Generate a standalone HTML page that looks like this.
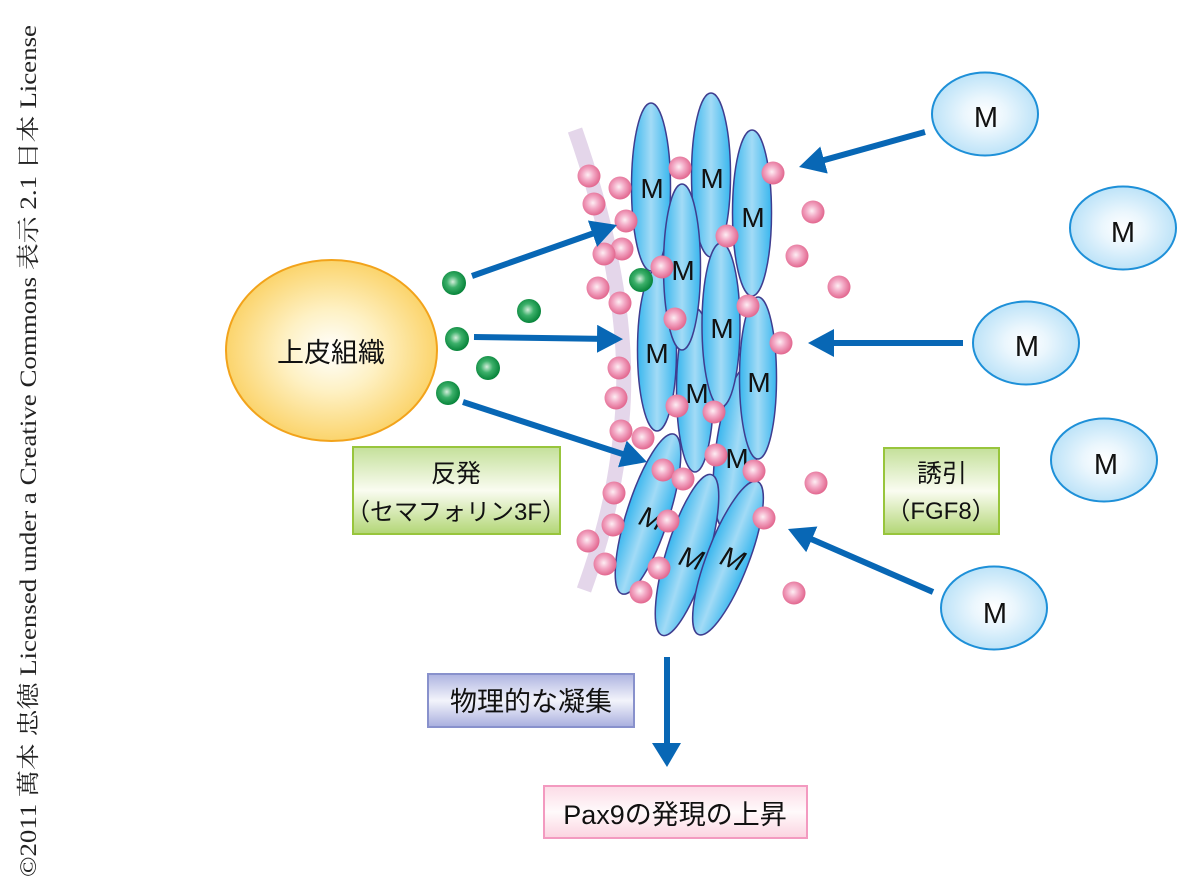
<!DOCTYPE html>
<html><head><meta charset="utf-8"><style>
html,body{margin:0;padding:0;background:#fff;}
svg{display:block;}
.j{font-family:"Liberation Sans","Noto Sans CJK JP",sans-serif;fill:#111;}
.m{font-family:"Liberation Sans",sans-serif;fill:#111;font-size:28px;}
</style></head><body>
<svg width="1200" height="894" viewBox="0 0 1200 894" xmlns="http://www.w3.org/2000/svg">
<defs>
<radialGradient id="gBig" cx="0.5" cy="0.5" r="0.5">
<stop offset="0" stop-color="#ffffff"/><stop offset="0.45" stop-color="#fef1c4"/><stop offset="1" stop-color="#fbd46c"/></radialGradient>
<radialGradient id="gR" cx="0.5" cy="0.5" r="0.5">
<stop offset="0" stop-color="#ffffff"/><stop offset="0.4" stop-color="#eaf6fd"/><stop offset="1" stop-color="#bde3f8"/></radialGradient>
<linearGradient id="gC" x1="0" y1="0" x2="1" y2="0">
<stop offset="0" stop-color="#38b6ee"/><stop offset="0.5" stop-color="#a2dbf6"/><stop offset="1" stop-color="#38b6ee"/></linearGradient>
<radialGradient id="gP" cx="0.45" cy="0.45" r="0.55">
<stop offset="0" stop-color="#fdeef3"/><stop offset="0.45" stop-color="#f3aac6"/><stop offset="1" stop-color="#e2678f"/></radialGradient>
<radialGradient id="gG" cx="0.45" cy="0.45" r="0.55">
<stop offset="0" stop-color="#d4eedb"/><stop offset="0.45" stop-color="#3cb06a"/><stop offset="1" stop-color="#07843a"/></radialGradient>
<linearGradient id="gGreen" x1="0" y1="0" x2="0" y2="1">
<stop offset="0" stop-color="#c4e09a"/><stop offset="0.5" stop-color="#fafcf1"/><stop offset="1" stop-color="#b2d675"/></linearGradient>
<linearGradient id="gBlue" x1="0" y1="0" x2="0" y2="1">
<stop offset="0" stop-color="#adb3e0"/><stop offset="0.5" stop-color="#f3f4fb"/><stop offset="1" stop-color="#a8aede"/></linearGradient>
<linearGradient id="gPink" x1="0" y1="0" x2="0" y2="1">
<stop offset="0" stop-color="#fcdbe6"/><stop offset="0.5" stop-color="#fffafb"/><stop offset="1" stop-color="#fbd3e0"/></linearGradient>
<marker id="ah" markerUnits="userSpaceOnUse" markerWidth="26" markerHeight="28" refX="14" refY="14" orient="auto">
<path d="M0,0 L26,14 L0,28 z" fill="#0867b5"/></marker>
</defs>

<!-- vertical credit text -->
<text transform="translate(36,877) rotate(-90)" textLength="852" lengthAdjust="spacingAndGlyphs" font-family="'Liberation Serif','Noto Serif CJK SC',serif" font-size="23" fill="#222">©2011 萬本 忠徳 Licensed under a Creative Commons 表示 2.1 日本 License</text>

<!-- lavender band -->
<path d="M575,130 C610,230 630,330 622,420 C616,490 602,540 584,590" fill="none" stroke="#e4d6ea" stroke-width="15"/>

<!-- big ellipse -->
<ellipse cx="331.5" cy="350.5" rx="105.5" ry="90.5" fill="url(#gBig)" stroke="#f2a31b" stroke-width="2"/>
<text class="j" x="331" y="362" font-size="27" text-anchor="middle">上皮組織</text>

<!-- green dots outside -->
<g fill="url(#gG)">
<circle cx="454" cy="283" r="12"/><circle cx="529" cy="311" r="12"/><circle cx="457" cy="339" r="12"/>
<circle cx="488" cy="368" r="12"/><circle cx="448" cy="393" r="12"/>
</g>

<!-- cells -->
<g fill="url(#gC)" stroke="#3f3d8f" stroke-width="1.5">
<ellipse cx="651" cy="187" rx="19.5" ry="84"/>
<ellipse cx="711" cy="175" rx="19.5" ry="82"/>
<ellipse cx="752" cy="213" rx="19.5" ry="83"/>
<ellipse cx="737" cy="448" rx="21" ry="82" transform="rotate(8 737 448)"/>
<ellipse cx="657" cy="350" rx="19.5" ry="81"/>
<ellipse cx="758" cy="378" rx="18.5" ry="81"/>
<ellipse cx="695" cy="390" rx="18.5" ry="82"/>
<ellipse cx="682" cy="267" rx="18.5" ry="83"/>
<ellipse cx="721" cy="325" rx="19" ry="82"/>
<ellipse cx="648" cy="514" rx="21" ry="84" transform="rotate(18 648 514)"/>
<ellipse cx="687" cy="555" rx="21" ry="84" transform="rotate(17 687 555)"/>
<ellipse cx="728" cy="558" rx="21" ry="82" transform="rotate(21 728 558)"/>
</g>
<g class="m" text-anchor="middle">
<text x="652" y="198">M</text>
<text x="712" y="188">M</text>
<text x="753" y="227">M</text>
<text x="683" y="280">M</text>
<text x="722" y="338">M</text>
<text x="657" y="363">M</text>
<text x="759" y="392">M</text>
<text x="697" y="403">M</text>
<text x="737" y="468">M</text>
<text transform="translate(647,527) rotate(18) skewX(-12)" x="0" y="0">M</text>
<text transform="translate(687,567) rotate(17) skewX(-12)" x="0" y="0">M</text>
<text transform="translate(728,567) rotate(20) skewX(-12)" x="0" y="0">M</text>
</g>

<!-- green dot in cluster -->
<circle cx="641" cy="280" r="12" fill="url(#gG)"/>

<!-- pink dots -->
<g fill="url(#gP)">
<circle cx="589" cy="176" r="11.5"/><circle cx="620" cy="188" r="11.5"/><circle cx="594" cy="204" r="11.5"/>
<circle cx="680" cy="168" r="11.5"/><circle cx="626" cy="221" r="11.5"/><circle cx="622" cy="249" r="11.5"/>
<circle cx="604" cy="254" r="11.5"/><circle cx="773" cy="173" r="11.5"/><circle cx="813" cy="212" r="11.5"/>
<circle cx="727" cy="236" r="11.5"/><circle cx="797" cy="256" r="11.5"/><circle cx="662" cy="267" r="11.5"/>
<circle cx="598" cy="288" r="11.5"/><circle cx="620" cy="303" r="11.5"/><circle cx="675" cy="319" r="11.5"/>
<circle cx="748" cy="306" r="11.5"/><circle cx="781" cy="343" r="11.5"/><circle cx="839" cy="287" r="11.5"/>
<circle cx="619" cy="368" r="11.5"/><circle cx="616" cy="398" r="11.5"/><circle cx="621" cy="431" r="11.5"/>
<circle cx="643" cy="438" r="11.5"/><circle cx="677" cy="406" r="11.5"/><circle cx="714" cy="412" r="11.5"/>
<circle cx="716" cy="455" r="11.5"/><circle cx="663" cy="470" r="11.5"/><circle cx="683" cy="479" r="11.5"/>
<circle cx="754" cy="471" r="11.5"/><circle cx="614" cy="493" r="11.5"/><circle cx="613" cy="525" r="11.5"/>
<circle cx="668" cy="521" r="11.5"/><circle cx="764" cy="518" r="11.5"/><circle cx="588" cy="541" r="11.5"/>
<circle cx="605" cy="564" r="11.5"/><circle cx="659" cy="568" r="11.5"/><circle cx="641" cy="592" r="11.5"/>
<circle cx="816" cy="483" r="11.5"/><circle cx="794" cy="593" r="11.5"/>
</g>

<!-- arrows -->
<g stroke="#0867b5" stroke-width="6" fill="none" marker-end="url(#ah)">
<line x1="472" y1="276" x2="605.7" y2="229"/>
<line x1="474" y1="337" x2="611" y2="339"/>
<line x1="463" y1="402" x2="635.6" y2="458.3"/>
<line x1="925" y1="132" x2="810.6" y2="163.8"/>
<line x1="963" y1="343" x2="820" y2="343"/>
<line x1="933" y1="592" x2="799" y2="533.8"/>
</g>
<line x1="667" y1="657" x2="667" y2="745" stroke="#0867b5" stroke-width="6"/>
<polygon points="652,743 681,743 667,767" fill="#0867b5"/>

<!-- right M ellipses -->
<g fill="url(#gR)" stroke="#1e90d8" stroke-width="2">
<ellipse cx="985" cy="114" rx="53" ry="41.5"/>
<ellipse cx="1123" cy="228" rx="53" ry="41.5"/>
<ellipse cx="1026" cy="343" rx="53" ry="41.5"/>
<ellipse cx="1104" cy="460" rx="53" ry="41.5"/>
<ellipse cx="994" cy="608" rx="53" ry="41.5"/>
</g>
<g class="m" text-anchor="middle" style="font-size:29px">
<text x="986" y="127">M</text>
<text x="1123" y="242">M</text>
<text x="1027" y="356">M</text>
<text x="1106" y="474">M</text>
<text x="995" y="623">M</text>
</g>

<!-- label boxes -->
<rect x="353" y="447" width="207" height="87" fill="url(#gGreen)" stroke="#98c53c" stroke-width="2"/>
<text class="j" x="456" y="482" font-size="25" text-anchor="middle">反発</text>
<text class="j" x="456" y="520" font-size="24" text-anchor="middle">（セマフォリン3F）</text>

<rect x="884" y="448" width="115" height="86" fill="url(#gGreen)" stroke="#98c53c" stroke-width="2"/>
<text class="j" x="942" y="482" font-size="25" text-anchor="middle">誘引</text>
<text class="j" x="941" y="519" font-size="24" text-anchor="middle">（FGF8）</text>

<rect x="428" y="674" width="206" height="53" fill="url(#gBlue)" stroke="#8891cc" stroke-width="2"/>
<text class="j" x="531" y="711" font-size="27" text-anchor="middle">物理的な凝集</text>

<rect x="544" y="786" width="263" height="52" fill="url(#gPink)" stroke="#f39ac0" stroke-width="2"/>
<text class="j" x="675" y="824" font-size="27" text-anchor="middle">Pax9の発現の上昇</text>
</svg>
</body></html>
